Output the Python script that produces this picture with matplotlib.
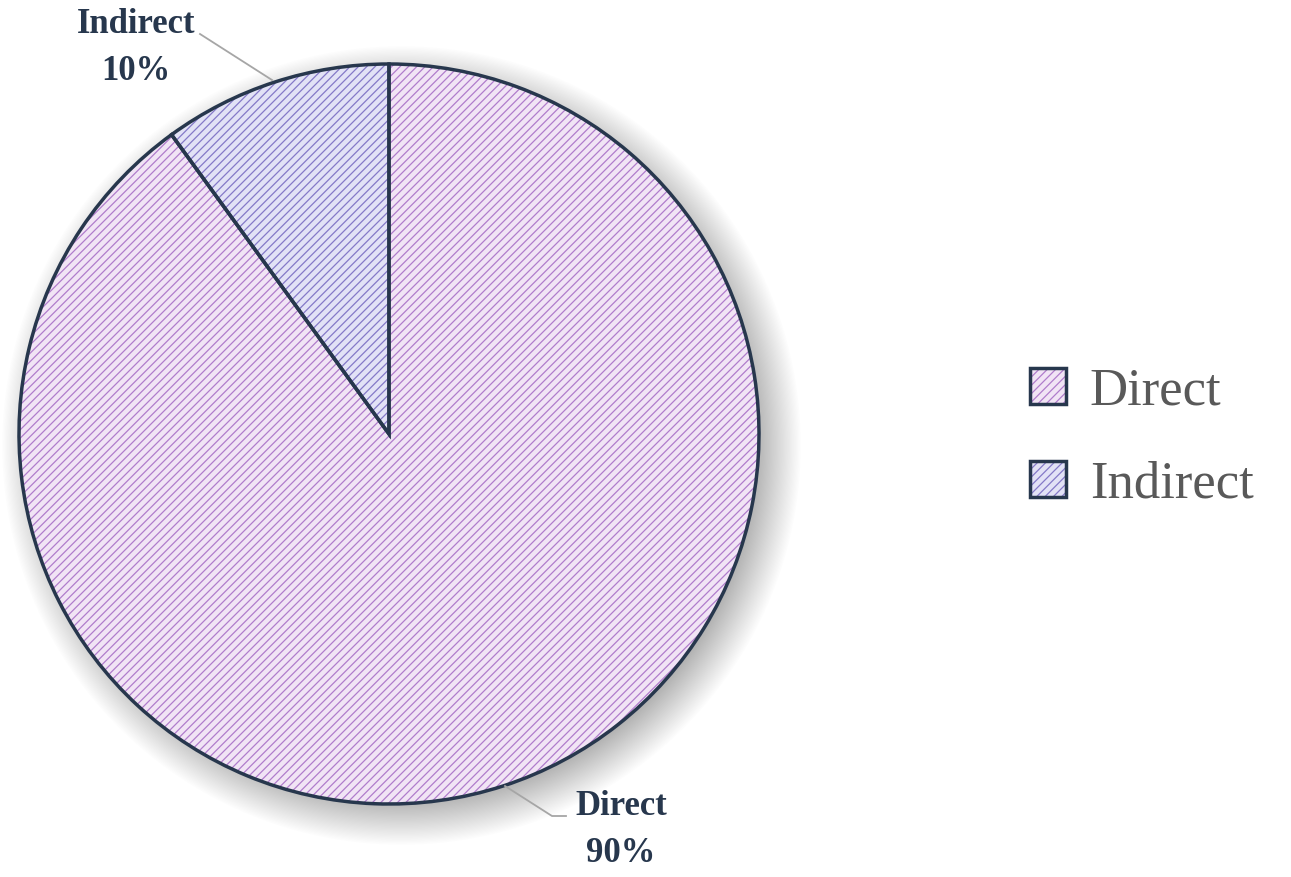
import numpy as np
import matplotlib.pyplot as plt
from matplotlib.patches import Patch
from matplotlib.legend_handler import HandlerTuple

labels = ['Direct', 'Indirect']
shares = [90, 10]
fills = ['#f1e4f5', '#e2e2f6']
hatch_cols = ['#b07ccc', '#8479c8']
navy = '#27374d'

plt.rcParams['font.family'] = ['Liberation Serif', 'DejaVu Serif']
plt.rcParams['hatch.linewidth'] = 0.9

W, H = 1291, 877
fig = plt.figure(figsize=(W / 100, H / 100), dpi=100)
ax = fig.add_axes([0, 0, 1, 1])

cx, cy, R = 389, H - 434, 370

# soft drop shadow
yy, xx = np.mgrid[0:H, 0:W]
d = np.hypot(xx - (cx + 12), (H - 1 - yy) - (cy - 12))
blur = 30
alpha = np.clip((R + blur - d) / (2 * blur), 0, 1) * 0.6
shadow = np.zeros((H, W, 4))
shadow[..., :3] = 0.33
shadow[..., 3] = alpha
ax.imshow(shadow, extent=(0, W, 0, H), zorder=0, interpolation='bilinear')

# fill + hatch
wedges, _ = ax.pie(shares, colors=fills, startangle=90, counterclock=False,
                   center=(cx, cy), radius=R, frame=True)
for w, hc in zip(wedges, hatch_cols):
    w.set_hatch('////')
    w.set_edgecolor(hc)
    w.set_linewidth(0)
    w.set_zorder(1)

# outlines
outl, _ = ax.pie(shares, startangle=90, counterclock=False,
                 center=(cx, cy), radius=R, frame=True,
                 wedgeprops=dict(fill=False, edgecolor=navy, linewidth=2.5))
for w in outl:
    w.set_zorder(2)
ax.set_xlim(0, W)
ax.set_ylim(0, H)
ax.set_aspect('equal')
ax.axis('off')

# data labels
lab_style = dict(fontsize=25, color=navy, ha='center', va='center',
                 fontweight='bold', linespacing=1.55)
ax.text(136, H - 48, f'{labels[1]}\n{shares[1]}%', **lab_style)
ax.text(621, H - 830, f'{labels[0]}\n{shares[0]}%', **lab_style)
ax.plot([272, 200], [H - 80, H - 34], color='#a6a6a6', lw=1.3, zorder=3)
ax.plot([505, 552, 566], [H - 786, H - 816, H - 816], color='#a6a6a6', lw=1.3, zorder=3)

# legend
handles = []
for fc, hc in zip(fills, hatch_cols):
    handles.append((Patch(facecolor=fc, edgecolor=hc, hatch='////', linewidth=0),
                    Patch(fill=False, edgecolor=navy, linewidth=2.5)))
leg = ax.legend(handles, labels, handler_map={tuple: HandlerTuple(ndivide=1)},
                loc='center left', bbox_to_anchor=(1030 / W, 1 - 438 / H),
                frameon=False, fontsize=38, labelcolor='#595959',
                handlelength=0.68, handleheight=0.68, handletextpad=0.45,
                labelspacing=0.85, borderpad=0, borderaxespad=0)

fig.savefig('out.png', dpi=100)
